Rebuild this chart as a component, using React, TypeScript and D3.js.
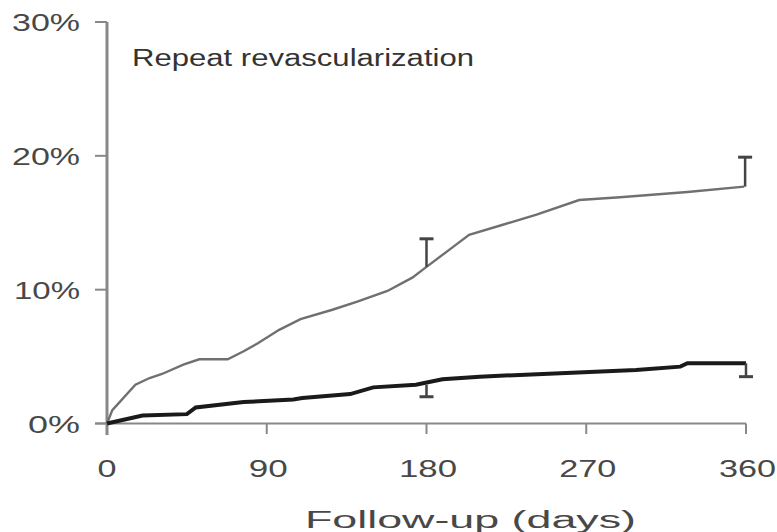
import React from "react";
import * as d3 from "d3";

const xTicks = [0, 90, 180, 270, 360];
const yTicks = [0, 10, 20, 30];
const yTickLabels = ["0%", "10%", "20%", "30%"];

// Upper (gray) curve: [day, percent]
const grayDays = [0, 3, 16, 24, 31, 43, 52, 68, 77, 85, 97, 109, 127, 141, 158, 172, 180, 195, 204, 223, 242, 266, 289, 327, 359];
const grayVals = [0, 1.0, 2.9, 3.4, 3.7, 4.4, 4.8, 4.8, 5.4, 6.0, 7.0, 7.8, 8.5, 9.1, 9.9, 10.9, 11.7, 13.2, 14.1, 14.85, 15.6, 16.7, 16.9, 17.3, 17.7];

// Lower (black) curve
const blackDays = [0, 20, 45, 50, 77, 105, 110, 137, 150, 174, 189, 210, 262, 298, 323, 327, 360];
const blackVals = [0, 0.6, 0.7, 1.2, 1.6, 1.8, 1.9, 2.2, 2.7, 2.9, 3.3, 3.5, 3.8, 4.0, 4.25, 4.5, 4.5];

// Error bars: day, from, to
const errDays = [180, 359.5, 180, 360];
const errFrom = [11.7, 17.7, 2.9, 4.5];
const errTo = [13.8, 19.9, 2.0, 3.5];

const title = "Repeat revascularization";
const xTitle = "Follow-up (days)";

export default function App() {
  const x = d3.scaleLinear().domain([0, 360]).range([107, 746]);
  const y = d3.scaleLinear().domain([0, 30]).range([423.5, 22]);
  const line = d3
    .line<[number, number]>()
    .x((d) => x(d[0]))
    .y((d) => y(d[1]));
  const grayData: [number, number][] = grayDays.map((d, i) => [d, grayVals[i]]);
  const blackData: [number, number][] = blackDays.map((d, i) => [d, blackVals[i]]);
  const yLabelW = [52, 66, 68, 68];
  const xLabelW = [19, 39, 58, 57, 57];
  const font = "'Liberation Sans', Arial, sans-serif";
  const axisColor = "#888";
  const textColor = "#484848";

  return (
    <svg
      width={777}
      height={532}
      style={{ position: "absolute", left: 0, top: 0, background: "#fff" }}
      fontFamily={font}
    >
      <rect x={0} y={0} width={777} height={532} fill="#fff" />
      {/* y axis */}
      <line x1={x(0)} x2={x(0)} y1={y(30)} y2={435} stroke={axisColor} strokeWidth={3} />
      {yTicks.map((t, i) => (
        <g key={t}>
          <line x1={95} x2={x(0)} y1={y(t)} y2={y(t)} stroke={axisColor} strokeWidth={2} />
          <text
            x={80}
            y={y(t) + 9}
            textAnchor="end"
            fontSize={23}
            fill={textColor}
            textLength={yLabelW[i]}
            lengthAdjust="spacingAndGlyphs"
          >
            {yTickLabels[i]}
          </text>
        </g>
      ))}
      {/* x axis */}
      <line x1={95} x2={x(360)} y1={y(0)} y2={y(0)} stroke={axisColor} strokeWidth={2} />
      {xTicks.map((t, i) => (
        <g key={t}>
          <line x1={x(t)} x2={x(t)} y1={y(0)} y2={434} stroke={axisColor} strokeWidth={2} />
          <text
            x={x(t) + (i === 0 ? 0 : 1.5)}
            y={477}
            textAnchor="middle"
            fontSize={23}
            fill={textColor}
            textLength={xLabelW[i]}
            lengthAdjust="spacingAndGlyphs"
          >
            {t}
          </text>
        </g>
      ))}
      {/* curves */}
      <path d={line(grayData) || ""} fill="none" stroke="#707070" strokeWidth={2.4} />
      <path d={line(blackData) || ""} fill="none" stroke="#1a1a1a" strokeWidth={4} />
      {/* error bars */}
      {errDays.map((d, i) => (
        <g key={i} stroke="#444" strokeWidth={2.5}>
          <line x1={x(d)} x2={x(d)} y1={y(errFrom[i])} y2={y(errTo[i])} />
          <line x1={x(d) - 7} x2={x(d) + 7} y1={y(errTo[i])} y2={y(errTo[i])} strokeWidth={3} />
        </g>
      ))}
      {/* title */}
      <text
        x={132}
        y={66}
        fontSize={23}
        fill="#333"
        textLength={342}
        lengthAdjust="spacingAndGlyphs"
      >
        {title}
      </text>
      <text
        x={305}
        y={528}
        fontSize={23}
        fill={textColor}
        textLength={331}
        lengthAdjust="spacingAndGlyphs"
      >
        {xTitle}
      </text>
    </svg>
  );
}
